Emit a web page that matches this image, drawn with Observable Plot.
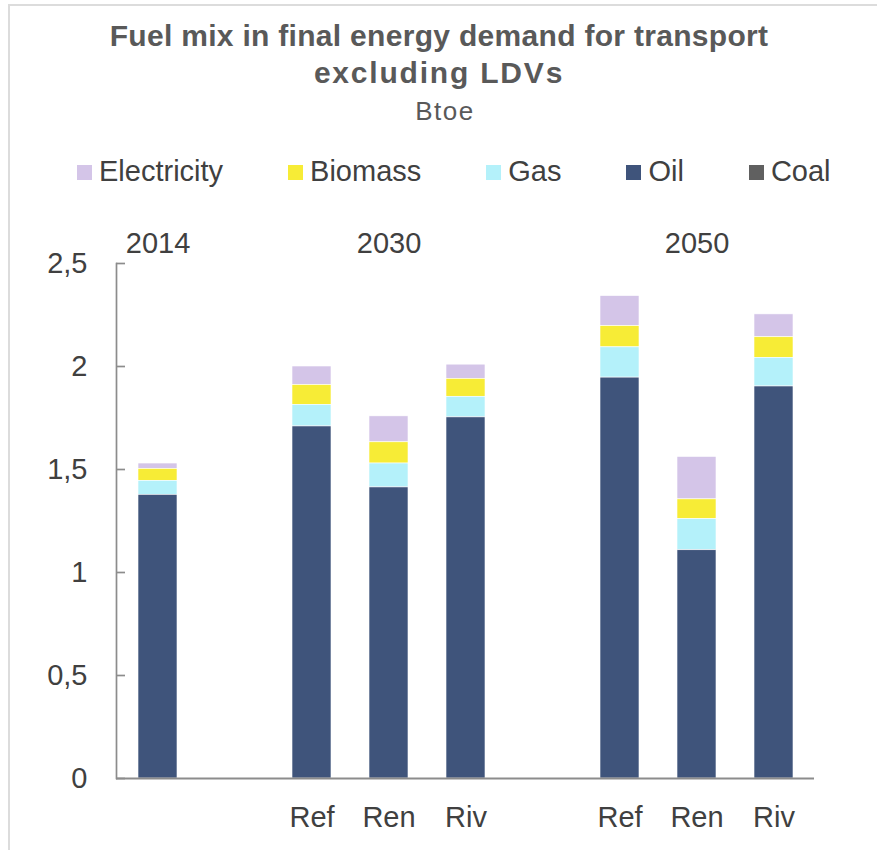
<!DOCTYPE html>
<html>
<head>
<meta charset="utf-8">
<script src="https://cdn.jsdelivr.net/npm/d3@7"></script>
<script src="https://cdn.jsdelivr.net/npm/@observablehq/plot@0.6"></script>
<style>
  html, body { margin: 0; padding: 0; background: #fff; }
  body { width: 877px; height: 850px; position: relative; overflow: hidden;
         font-family: "Liberation Sans", Arial, sans-serif; }
  #border { position: absolute; left: 8px; top: 4px; right: -4px; bottom: -4px;
            border-top: 2px solid #dcdcdc; border-left: 2px solid #dcdcdc; }
  #title { position: absolute; left: 0; width: 878px; top: 18px; text-align: center;
           font-weight: bold; font-size: 30px; line-height: 36.5px; color: #595959; }
  #title .l1 { letter-spacing: 0.3px; }
  #title .l2 { letter-spacing: 1.8px; }
  #subtitle { position: absolute; left: 0; width: 890px; top: 98px; text-align: center;
              font-size: 26px; line-height: 26px; color: #595959; letter-spacing: 1.5px; }
  #legend { position: absolute; left: 77px; top: 157px; display: flex; gap: 65px;
            font-size: 29px; line-height: 29px; color: #404040; }
  .item { display: flex; align-items: center; }
  .sw { width: 15px; height: 15px; margin-right: 7px; margin-top: 2px; }
  #chart { position: absolute; left: 0; top: 200px; }
</style>
</head>
<body>
<div id="border"></div>
<div id="title"><span class="l1">Fuel mix in final energy demand for transport</span><br><span class="l2">excluding LDVs</span></div>
<div id="subtitle">Btoe</div>
<div id="legend"></div>
<div id="chart"></div>
<script>
// Categories
const slots = ["2014", "gap1", "2030 Ref", "2030 Ren", "2030 Riv", "gap2", "2050 Ref", "2050 Ren", "2050 Riv"];
const slotLabels = ["", "", "Ref", "Ren", "Riv", "", "Ref", "Ren", "Riv"];
const scenarios = ["2014", "2030 Ref", "2030 Ren", "2030 Riv", "2050 Ref", "2050 Ren", "2050 Riv"];
const years = ["2014", "2030", "2050"];
const yearSlots = ["2014", "2030 Ren", "2050 Ren"];

// Fuels (legend order) and colours
const fuels = ["Electricity", "Biomass", "Gas", "Oil", "Coal"];
const fuelColors = ["#d4c5e8", "#f7ec36", "#b4f1fa", "#3f547b", "#606060"];
const stackOrder = ["Coal", "Oil", "Gas", "Biomass", "Electricity"];

// Series values (Btoe)
const coal        = [0, 0, 0, 0, 0, 0, 0];
const oil         = [1.377, 1.709, 1.413, 1.753, 1.946, 1.108, 1.903];
const gas         = [0.068, 0.105, 0.116, 0.100, 0.147, 0.151, 0.139];
const biomass     = [0.058, 0.096, 0.103, 0.087, 0.103, 0.096, 0.100];
const electricity = [0.026, 0.090, 0.126, 0.069, 0.146, 0.206, 0.111];

// Y ticks
const yTicks = [0, 0.5, 1, 1.5, 2, 2.5];

const series = {Electricity: electricity, Biomass: biomass, Gas: gas, Oil: oil, Coal: coal};
const data = fuels.flatMap(f => scenarios.map((s, i) => ({slot: s, fuel: f, value: series[f][i]})))
  .filter(d => d.value > 0);

// Legend
const legend = document.getElementById("legend");
fuels.forEach((f, i) => {
  const it = document.createElement("div");
  it.className = "item";
  const sw = document.createElement("span");
  sw.className = "sw";
  sw.style.background = fuelColors[i];
  const tx = document.createElement("span");
  tx.textContent = f;
  it.appendChild(sw); it.appendChild(tx);
  legend.appendChild(it);
});

const W = 877, mL = 116, mR = 63;
const axisColor = "#8c8c8c";

const chart = Plot.plot({
  width: W,
  height: 650,
  marginTop: 63,
  marginBottom: 72,
  marginLeft: mL,
  marginRight: mR,
  style: {fontFamily: "'Liberation Sans', Arial, sans-serif", fontSize: "29px", color: "#404040", background: "transparent", overflow: "visible"},
  x: {domain: slots, paddingInner: 0.5, paddingOuter: 0.25},
  y: {domain: [0, 2.5]},
  color: {domain: fuels, range: fuelColors},
  marks: [
    Plot.barY(data, Plot.stackY({order: stackOrder}, {x: "slot", y: "value", fill: "fuel", stroke: "#ffffff", strokeWidth: 0.6})),
    Plot.ruleY([0], {stroke: axisColor, strokeWidth: 2}),
    Plot.frame({anchor: "left", stroke: axisColor, strokeWidth: 1.7}),
    Plot.tickY(yTicks, {y: d => d, stroke: axisColor, strokeWidth: 1.7, insetRight: W - mL - mR - 9}),
    Plot.axisY({ticks: yTicks, tickSize: 0, tickPadding: 29, label: null, tickFormat: d => String(d).replace(".", ",")}),
    Plot.axisX({tickSize: 0, tickPadding: 28, label: null, tickFormat: d => slotLabels[slots.indexOf(d)]}),
    Plot.text(years, {x: (d, i) => yearSlots[i], y: () => 2.5, text: d => d, dy: -19.5, fill: "#404040", fontSize: 29})
  ]
});
document.getElementById("chart").appendChild(chart);
</script>
</body>
</html>
